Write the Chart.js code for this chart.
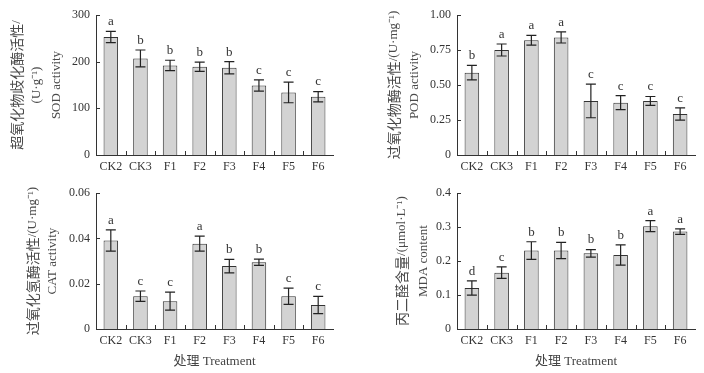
<!DOCTYPE html>
<html>
<head>
<meta charset="utf-8">
<script src="https://cdn.jsdelivr.net/npm/chart.js@4"></script>
<style>
  body { margin: 0; background: #fff; }
  #wrap { position: relative; width: 704px; height: 373px; overflow: hidden; }
  canvas { position: absolute; }
</style>
</head>
<body>
<div id="wrap">
  <canvas id="sod" width="352" height="180" style="left:0;top:0"></canvas>
  <canvas id="pod" width="352" height="180" style="left:352px;top:0"></canvas>
  <canvas id="cat" width="352" height="193" style="left:0;top:180px"></canvas>
  <canvas id="mda" width="352" height="193" style="left:352px;top:180px"></canvas>
</div>
<script>
const categories = ['CK2', 'CK3', 'F1', 'F2', 'F3', 'F4', 'F5', 'F6'];

const sodMean = [253, 207, 192, 189, 187, 149, 134, 125];
const sodErr = [12, 18, 11, 10, 13, 12, 22, 11];
const sodLetters = ['a', 'b', 'b', 'b', 'b', 'c', 'c', 'c'];
const sodTicks = ['0', '100', '200', '300'];

const podMean = [0.588, 0.75, 0.82, 0.84, 0.386, 0.374, 0.386, 0.293];
const podErr = [0.052, 0.043, 0.035, 0.04, 0.12, 0.05, 0.032, 0.044];
const podLetters = ['b', 'a', 'a', 'a', 'c', 'c', 'c', 'c'];
const podTicks = ['0', '0.25', '0.50', '0.75', '1.00'];

const catMean = [0.0391, 0.0145, 0.0123, 0.0377, 0.0278, 0.0295, 0.0145, 0.0106];
const catErr = [0.0047, 0.0023, 0.004, 0.0033, 0.003, 0.0014, 0.0036, 0.0038];
const catLetters = ['a', 'c', 'c', 'a', 'b', 'b', 'c', 'c'];
const catTicks = ['0', '0.02', '0.04', '0.06'];

const mdaMean = [0.121, 0.166, 0.231, 0.231, 0.223, 0.218, 0.303, 0.287];
const mdaErr = [0.021, 0.017, 0.026, 0.024, 0.011, 0.03, 0.016, 0.008];
const mdaLetters = ['d', 'c', 'b', 'b', 'b', 'b', 'a', 'a'];
const mdaTicks = ['0', '0.1', '0.2', '0.3', '0.4'];

const serif = "'Liberation Serif', 'Noto Sans CJK SC', serif";
const cjk = "'Noto Sans CJK SC', sans-serif";
const ink = '#333';

// split a title line into chinese / latin runs so each gets its own size
function runs(text) {
    const out = [];
    for (const ch of text) {
        const isCjk = /[\u3000-\u9fff\uff00-\uffef]/.test(ch);
        const last = out[out.length - 1];
        if (last && last.cjk === isCjk) last.s += ch;
        else out.push({ s: ch, cjk: isCjk });
    }
    return out;
}

// error bars, letters, inward tick marks and the y title
const extras = {
    id: 'extras',
    afterDatasetsDraw(chart, args, opts) {
        const ctx = chart.ctx;
        const y = chart.scales.y;
        const area = chart.chartArea;
        ctx.save();
        ctx.strokeStyle = '#222';
        ctx.lineWidth = 1.2;
        chart.getDatasetMeta(0).data.forEach((bar, i) => {
            const m = chart.data.datasets[0].data[i];
            const top = y.getPixelForValue(m + opts.err[i]);
            const bot = y.getPixelForValue(m - opts.err[i]);
            ctx.beginPath();
            ctx.moveTo(bar.x, top); ctx.lineTo(bar.x, bot);
            ctx.moveTo(bar.x - 5, top); ctx.lineTo(bar.x + 5, top);
            ctx.moveTo(bar.x - 5, bot); ctx.lineTo(bar.x + 5, bot);
            ctx.stroke();
            ctx.fillStyle = ink;
            ctx.font = '13px ' + serif;
            ctx.textAlign = 'center';
            ctx.textBaseline = 'bottom';
            ctx.fillText(opts.letters[i], bar.x, top - 3);
        });
        ctx.strokeStyle = ink;
        ctx.lineWidth = 1;
        ctx.beginPath();
        y.ticks.forEach(t => {
            const py = Math.round(y.getPixelForValue(t.value)) + 0.5;
            ctx.moveTo(area.left, py); ctx.lineTo(area.left + 4, py);
        });
        const step = (area.right - area.left) / categories.length;
        for (let i = 1; i < categories.length; i++) {
            const px = Math.round(area.left + i * step) + 0.5;
            ctx.moveTo(px, area.bottom); ctx.lineTo(px, area.bottom - 4);
        }
        ctx.stroke();

        // y title, rotated, one column per line
        const cy = (area.top + area.bottom) / 2;
        ctx.fillStyle = '#4a4a4a';
        ctx.textBaseline = 'middle';
        ctx.textAlign = 'left';
        opts.title.forEach((line, li) => {
            const parts = runs(line);
            const fonts = parts.map(p => p.cjk ? '14px ' + cjk : '13px ' + serif);
            let w = 0;
            parts.forEach((p, k) => { ctx.font = fonts[k]; w += ctx.measureText(p.s).width; });
            ctx.save();
            ctx.translate(opts.titleX[li], cy);
            ctx.rotate(-Math.PI / 2);
            let tx = -w / 2;
            parts.forEach((p, k) => {
                ctx.font = fonts[k];
                ctx.fillText(p.s, tx, 0);
                tx += ctx.measureText(p.s).width;
            });
            ctx.restore();
        });
        ctx.restore();
    }
};

function makeChart(id, mean, err, letters, tickLabels, max, step, yTitle, titleX, pad, yWidth, xHeight, xTitle) {
    new Chart(document.getElementById(id).getContext('2d'), {
        type: 'bar',
        data: {
            labels: categories,
            datasets: [{
                data: mean,
                backgroundColor: '#d3d3d3',
                borderColor: ink,
                borderWidth: 1,
                categoryPercentage: 1,
                barPercentage: 0.49
            }]
        },
        options: {
            responsive: false,
            animation: false,
            events: [],
            layout: { padding: pad },
            plugins: {
                legend: { display: false },
                tooltip: { enabled: false },
                extras: { err: err, letters: letters, title: yTitle, titleX: titleX }
            },
            scales: {
                x: {
                    grid: { display: false, drawTicks: false },
                    border: { color: ink, width: 1 },
                    ticks: { color: ink, padding: 5, font: { family: serif, size: 12 }, maxRotation: 0 },
                    title: {
                        display: !!xTitle,
                        text: xTitle || '',
                        color: '#444',
                        font: { family: serif, size: 13 },
                        padding: { top: 0, bottom: 4 }
                    },
                    afterFit: s => { s.height = xHeight; }
                },
                y: {
                    min: 0,
                    max: max,
                    grid: { display: false, drawTicks: false },
                    border: { color: ink, width: 1 },
                    ticks: {
                        stepSize: step,
                        color: ink,
                        padding: 6,
                        font: { family: serif, size: 12 },
                        callback: (v, i) => tickLabels[i]
                    },
                    afterFit: s => { s.width = yWidth; }
                }
            }
        },
        plugins: [extras]
    });
}

makeChart('sod', sodMean, sodErr, sodLetters, sodTicks, 300, 100,
    ['超氧化物歧化酶活性/', '(U·g⁻¹)', 'SOD activity'], [17, 37, 57],
    { left: 0, top: 15, right: 19, bottom: 0 }, 96, 25, null);
makeChart('pod', podMean, podErr, podLetters, podTicks, 1, 0.25,
    ['过氧化物酶活性/(U·mg⁻¹)', 'POD activity'], [42, 63],
    { left: 0, top: 15, right: 9, bottom: 0 }, 105, 25, null);
makeChart('cat', catMean, catErr, catLetters, catTicks, 0.06, 0.02,
    ['过氧化氢酶活性/(U·mg⁻¹)', 'CAT activity'], [33, 53],
    { left: 0, top: 8, right: 19, bottom: 0 }, 96, 44, '处理 Treatment');
makeChart('mda', mdaMean, mdaErr, mdaLetters, mdaTicks, 0.4, 0.1,
    ['丙二醛含量/(μmol·L⁻¹)', 'MDA content'], [50, 72],
    { left: 0, top: 8, right: 9, bottom: 0 }, 105, 44, '处理 Treatment');
</script>
</body>
</html>
